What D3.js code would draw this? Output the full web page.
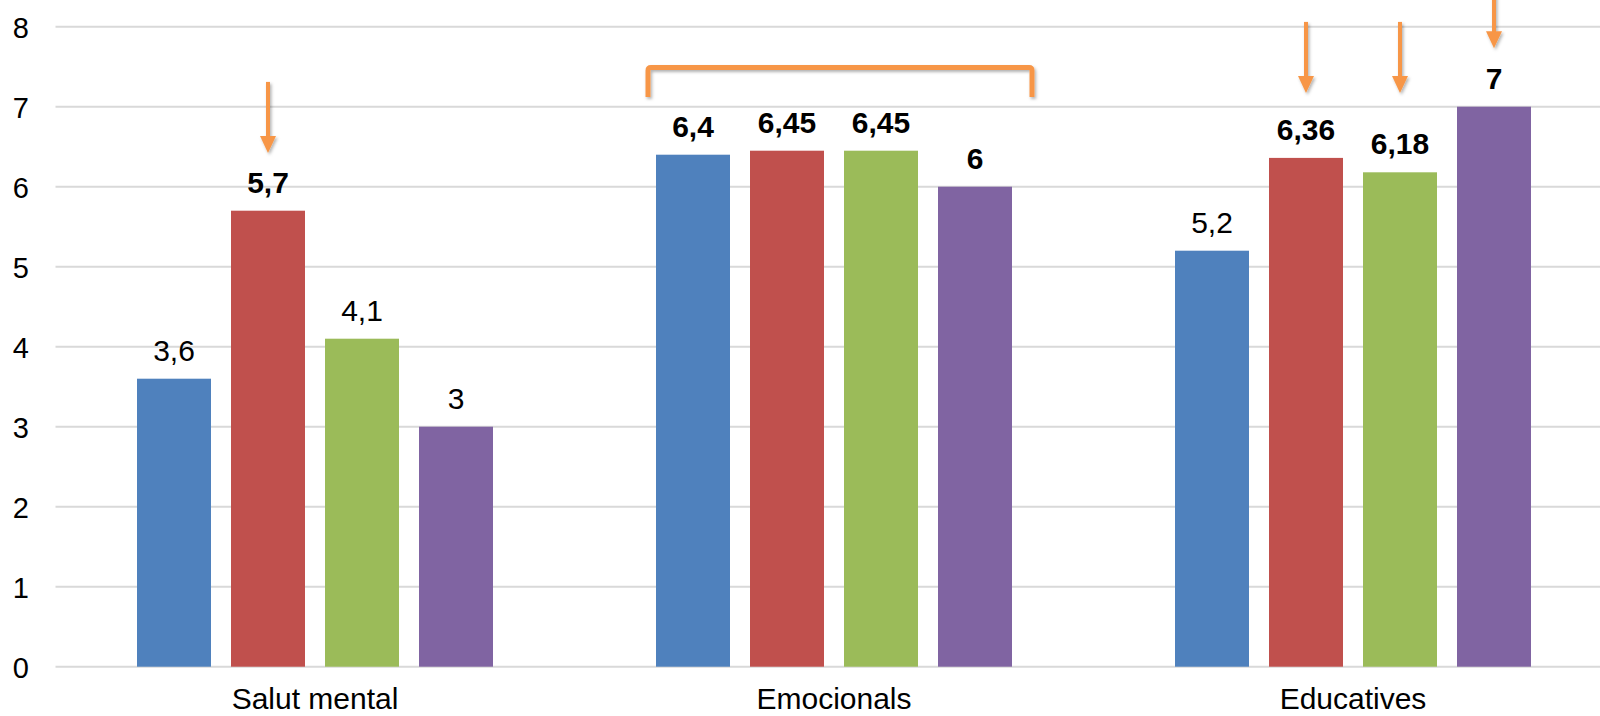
<!DOCTYPE html>
<html>
<head>
<meta charset="utf-8">
<script src="https://cdn.jsdelivr.net/npm/d3@7"></script>
<style>
  html, body { margin: 0; padding: 0; background: #fff; }
  svg { display: block; }
  text { font-family: "Liberation Sans", Arial, sans-serif; fill: #000; }
</style>
</head>
<body>
<svg id="chart" width="1600" height="716"></svg>
<script>
// ---- data ----
const categories = ["Salut mental", "Emocionals", "Educatives"];
const seriesNames = ["Sèrie 1", "Sèrie 2", "Sèrie 3", "Sèrie 4"];
const serie1 = [3.6, 6.4, 5.2];
const serie2 = [5.7, 6.45, 6.36];
const serie3 = [4.1, 6.45, 6.18];
const serie4 = [3, 6, 7];
const boldLabels = [
  [false, true, false],
  [true, true, true],
  [false, true, true],
  [false, true, true]
];
const yTicks = [0, 1, 2, 3, 4, 5, 6, 7, 8];
const colors = ["#4F81BD", "#C0504D", "#9BBB59", "#8064A2"];
// annotation arrows: category, series index, from value, to value
const arrows = [
  { cat: "Salut mental", s: 1, from: 7.31, to: 6.42 },
  { cat: "Educatives", s: 1, from: 8.06, to: 7.17 },
  { cat: "Educatives", s: 2, from: 8.06, to: 7.17 },
  { cat: "Educatives", s: 3, from: 8.6, to: 7.73 }
];
const bracket = { cat: "Emocionals", top: 7.49, bottom: 7.12 };

const seriesValues = [serie1, serie2, serie3, serie4];

// ---- layout ----
const svg = d3.select("#chart");
const plotLeft = 55.5, plotRight = 1612.5;
const yTop = 26.7, yBottom = 666.7;

const x0 = d3.scaleBand().domain(categories).range([plotLeft, plotRight]).paddingInner(0).paddingOuter(0);
const x1 = d3.scaleBand().domain(d3.range(seriesNames.length)).range([71.5, 447.5])
  .paddingInner(20 / 94).paddingOuter(10 / 94);
const y = d3.scaleLinear().domain([0, 8]).range([yBottom, yTop]);

const defs = svg.append("defs");
const f = defs.append("filter").attr("id", "shadow").attr("x", "-50%").attr("y", "-50%").attr("width", "200%").attr("height", "200%");
f.append("feDropShadow").attr("dx", 1.5).attr("dy", 2).attr("stdDeviation", 1.5)
  .attr("flood-color", "#000").attr("flood-opacity", 0.3);

// gridlines
svg.append("g").selectAll("line").data(yTicks).join("line")
  .attr("x1", plotLeft).attr("x2", plotRight)
  .attr("y1", d => y(d)).attr("y2", d => y(d))
  .attr("stroke", "#D9D9D9").attr("stroke-width", 2);

// y axis labels
const yAxis = d3.axisLeft(y).tickValues(yTicks).tickSize(0).tickPadding(0).tickFormat(d3.format("d"));
const gy = svg.append("g").attr("transform", "translate(29,0)").call(yAxis);
gy.select(".domain").remove();
gy.selectAll("text").attr("font-size", 29).attr("font-family", "Liberation Sans, Arial, sans-serif")
  .attr("fill", "#000").attr("dy", "0.36em");

// x axis labels
const xAxis = d3.axisBottom(x0).tickSize(0).tickPadding(0);
const gx = svg.append("g").attr("transform", `translate(0,${yBottom})`).call(xAxis);
gx.select(".domain").remove();
gx.selectAll("text").attr("font-size", 30).attr("font-family", "Liberation Sans, Arial, sans-serif")
  .attr("fill", "#000").attr("y", 42).attr("dy", 0);

// bars
const rows = [];
categories.forEach((c, ci) => {
  seriesValues.forEach((vals, si) => {
    rows.push({ cat: c, s: si, v: vals[ci], bold: boldLabels[si][ci] });
  });
});
const bars = svg.append("g");
bars.selectAll("rect").data(rows).join("rect")
  .attr("x", d => x0(d.cat) + x1(d.s))
  .attr("width", x1.bandwidth())
  .attr("y", d => y(d.v))
  .attr("height", d => y(0) - y(d.v))
  .attr("fill", d => colors[d.s]);

// value labels
svg.append("g").selectAll("text").data(rows).join("text")
  .attr("x", d => x0(d.cat) + x1(d.s) + x1.bandwidth() / 2)
  .attr("y", d => y(d.v) - 18)
  .attr("text-anchor", "middle")
  .attr("font-size", 30)
  .attr("font-weight", d => d.bold ? "bold" : "normal")
  .text(d => String(d.v).replace(".", ","));

// annotations
const orange = "#F79646";
const ann = svg.append("g").attr("filter", "url(#shadow)");
arrows.forEach(a => {
  const cx = x0(a.cat) + x1(a.s) + x1.bandwidth() / 2;
  const y1 = y(a.from), y2 = y(a.to);
  ann.append("line").attr("x1", cx).attr("x2", cx).attr("y1", y1).attr("y2", y2 - 14)
    .attr("stroke", orange).attr("stroke-width", 4);
  ann.append("path")
    .attr("d", `M${cx - 8},${y2 - 17} L${cx + 8},${y2 - 17} L${cx},${y2} Z`)
    .attr("fill", orange);
});
const bx1 = x0(bracket.cat) + x1(0) - 8;
const bx2 = x0(bracket.cat) + x1(3) + x1.bandwidth() + 20;
ann.append("path")
  .attr("d", `M${bx1},${y(bracket.bottom)} L${bx1},${y(bracket.top) + 3} Q${bx1},${y(bracket.top)} ${bx1 + 3},${y(bracket.top)} L${bx2 - 3},${y(bracket.top)} Q${bx2},${y(bracket.top)} ${bx2},${y(bracket.top) + 3} L${bx2},${y(bracket.bottom)}`)
  .attr("fill", "none").attr("stroke", orange).attr("stroke-width", 5);
</script>
</body>
</html>
